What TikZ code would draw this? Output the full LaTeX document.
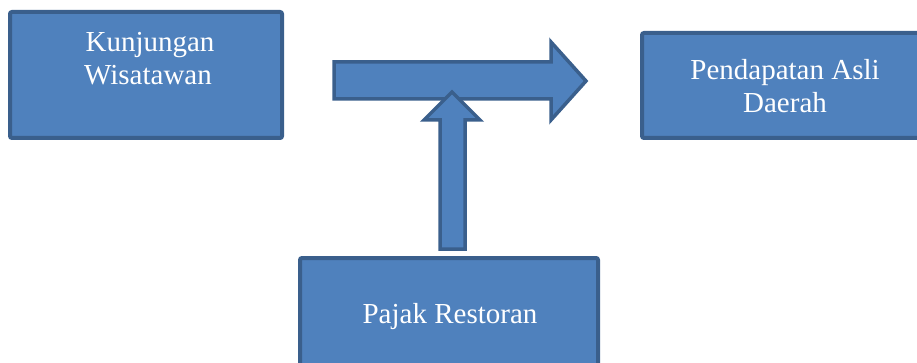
\documentclass[tikz,border=0pt]{standalone}
\usepackage{fontspec}
\setmainfont{Liberation Serif}
\definecolor{boxfill}{HTML}{4F81BD}
\definecolor{boxline}{HTML}{3A5F8C}
\begin{document}
\begin{tikzpicture}[x=1pt,y=-1pt,
  box/.style={draw=boxline, fill=boxfill, line width=4pt, rounded corners=2pt,
    inner sep=0pt, outer sep=0pt, anchor=north west},
  lbl/.style={text=white, inner sep=0pt, anchor=base,
    font=\fontsize{29}{33}\selectfont},
  blockarrow/.style={draw=boxline, fill=boxfill, line width=3.5pt, line join=miter}]
\clip (0,0) rectangle (917,363);
% boxes
\node[box, minimum width=272pt, minimum height=126pt] (kw) at (10,12) {};
\node[box, minimum width=300pt, minimum height=105pt] (pad) at (642,33) {};
\node[box, minimum width=298pt, minimum height=130pt] (pr) at (300,258) {};
% texts
\node[lbl] (kw1) at (150,52) {Kunjungan};
\node[lbl] (kw2) at (148,85) {Wisatawan};
\node[lbl] (pad1) at (785,80) {Pendapatan Asli};
\node[lbl] (pad2) at (785,113) {Daerah};
\node[lbl] (pr1) at (450,323) {Pajak Restoran};
% block arrows
\draw[blockarrow] (334,62) -- (551,62) -- (551,42) -- (586,81) -- (551,120) -- (551,99) -- (334,99) -- cycle;
\draw[blockarrow] (440,249) -- (440,120) -- (424,120) -- (452,92) -- (480,120) -- (465,120) -- (465,249) -- cycle;
\end{tikzpicture}
\end{document}
